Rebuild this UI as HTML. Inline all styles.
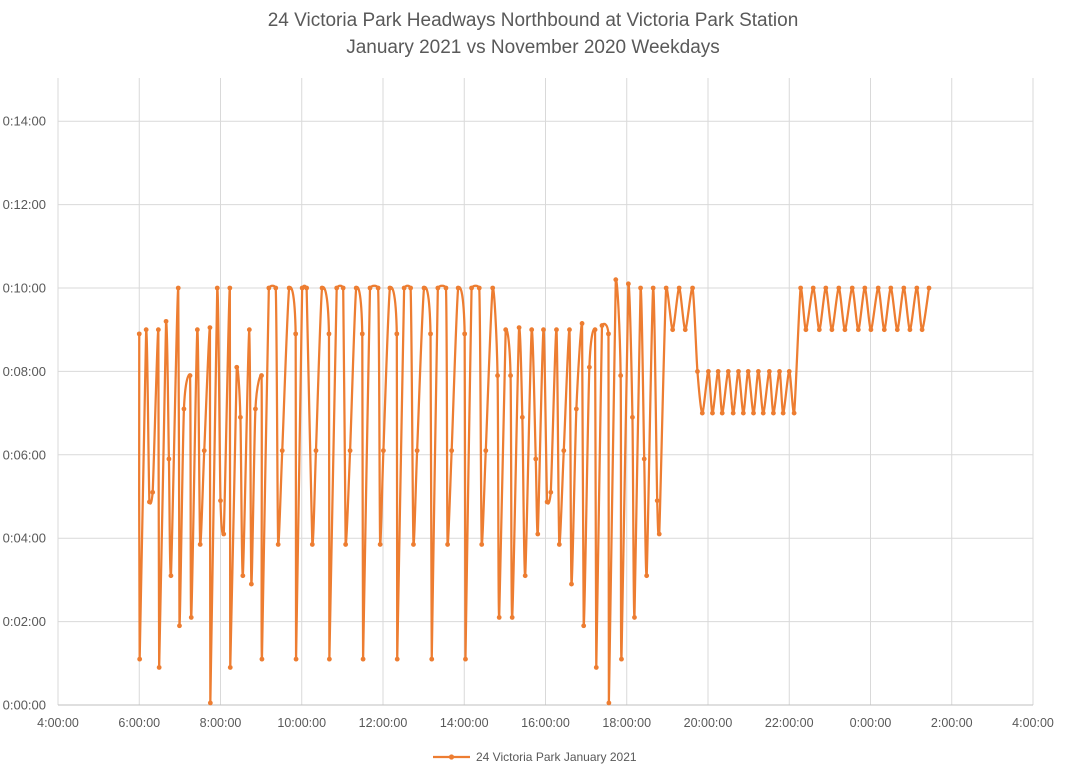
<!DOCTYPE html>
<html><head><meta charset="utf-8"><style>
body{margin:0;background:#fff;}
svg{display:block;font-family:"Liberation Sans",Calibri,sans-serif;}
</style></head><body>
<svg id="chart" width="1067" height="780" viewBox="0 0 1067 780" xmlns="http://www.w3.org/2000/svg">
<rect x="0" y="0" width="1067" height="780" fill="#fff"/>
<text x="533" y="26" text-anchor="middle" font-size="19" fill="#595959">24 Victoria Park Headways Northbound at Victoria Park Station</text>
<text x="533" y="53" text-anchor="middle" font-size="19" fill="#595959">January 2021 vs November 2020 Weekdays</text>
<g id="grid"></g>
<g id="yticks"></g>
<g id="xticks"></g>
<g id="series"></g>
<g>
<line x1="433" y1="757" x2="470" y2="757" stroke="#ED7D31" stroke-width="2.25"/>
<circle cx="451.5" cy="757" r="2.6" fill="#ED7D31"/>
<text x="476" y="761" font-size="12" fill="#595959">24 Victoria Park January 2021</text>
</g>
</svg>
<script>
const xTickLabels=["4:00:00","6:00:00","8:00:00","10:00:00","12:00:00","14:00:00","16:00:00","18:00:00","20:00:00","22:00:00","0:00:00","2:00:00","4:00:00"];
const yTickLabels=["0:00:00","0:02:00","0:04:00","0:06:00","0:08:00","0:10:00","0:12:00","0:14:00"];
// time of day in hours (past midnight continues >24)
const times=[6.00,6.01,6.17,6.25,6.33,6.47,6.49,6.66,6.73,6.78,6.96,6.99,7.10,7.25,7.28,7.43,7.50,7.60,7.74,7.75,7.92,8.00,8.08,8.23,8.24,8.40,8.49,8.55,8.71,8.76,8.86,9.01,9.02,9.19,9.36,9.42,9.52,9.69,9.85,9.86,10.01,10.12,10.26,10.35,10.50,10.67,10.68,10.86,11.02,11.08,11.19,11.34,11.49,11.51,11.68,11.88,11.93,12.01,12.17,12.34,12.35,12.52,12.68,12.75,12.84,13.01,13.17,13.20,13.35,13.55,13.59,13.69,13.85,14.01,14.03,14.18,14.37,14.43,14.53,14.70,14.82,14.86,15.02,15.14,15.18,15.35,15.43,15.50,15.66,15.76,15.81,15.95,16.04,16.13,16.27,16.34,16.45,16.59,16.64,16.76,16.90,16.94,17.08,17.22,17.25,17.39,17.55,17.56,17.73,17.85,17.87,18.04,18.14,18.19,18.34,18.43,18.49,18.65,18.75,18.80,18.97,19.13,19.29,19.44,19.62,19.74,19.86,20.01,20.11,20.25,20.35,20.50,20.62,20.75,20.87,20.99,21.12,21.24,21.36,21.51,21.61,21.76,21.85,22.00,22.12,22.28,22.41,22.59,22.74,22.90,23.05,23.22,23.37,23.55,23.70,23.86,24.01,24.19,24.34,24.50,24.66,24.82,24.97,25.14,25.27,25.44];
// headway in minutes
const headways=[8.9,1.1,9.0,4.87,5.1,9.0,0.9,9.2,5.9,3.1,10.0,1.9,7.1,7.9,2.1,9.0,3.85,6.1,9.05,0.05,10.0,4.9,4.1,10.0,0.9,8.1,6.9,3.1,9.0,2.9,7.1,7.9,1.1,10,10,3.85,6.1,10,8.9,1.1,10,10,3.85,6.1,10,8.9,1.1,10,10,3.85,6.1,10,8.9,1.1,10,10,3.85,6.1,10,8.9,1.1,10,10,3.85,6.1,10,8.9,1.1,10,10,3.85,6.1,10,8.9,1.1,10,10,3.85,6.1,10,7.9,2.1,9.0,7.9,2.1,9.05,6.9,3.1,9.0,5.9,4.1,9.0,4.87,5.1,9.0,3.85,6.1,9.0,2.9,7.1,9.15,1.9,8.1,9.0,0.9,9.1,8.9,0.05,10.2,7.9,1.1,10.1,6.9,2.1,10,5.9,3.1,10,4.9,4.1,10,9,10,9,10,8,7,8,7,8,7,8,7,8,7,8,7,8,7,8,7,8,7,8,7,10,9,10,9,10,9,10,9,10,9,10,9,10,9,10,9,10,9,10,9,10];

const X0=58,X1=1033,Y0=705,Y15=79.5;
function xs(h){return X0+(h-4)/24*(X1-X0);}
function ys(m){return Y0-m/15*(Y0-Y15);}
const NS="http://www.w3.org/2000/svg";
function mk(tag,attrs,parent){const e=document.createElementNS(NS,tag);for(const k in attrs)e.setAttribute(k,attrs[k]);parent.appendChild(e);return e;}
const grid=document.getElementById('grid'),yt=document.getElementById('yticks'),xt=document.getElementById('xticks'),ser=document.getElementById('series');
yTickLabels.forEach((lab,i)=>{
  const y=ys(i*2);
  if(i>0){const l=mk('line',{x1:X0,x2:X1,y1:y,y2:y,stroke:'#d9d9d9','stroke-width':1},grid);
  
  }
  const t=mk('text',{x:46,y:y+4.5,'text-anchor':'end','font-size':13,fill:'#595959'},yt);
  
  
  t.textContent=lab;
});
xTickLabels.forEach((lab,i)=>{
  const x=xs(4+i*2);
  const l=mk('line',{x1:x,x2:x,y1:78,y2:Y0,stroke:'#d9d9d9','stroke-width':1},grid);
  
  
  const t=mk('text',{x:x,y:727,'text-anchor':'middle','font-size':12.5,fill:'#595959'},xt);
  
  
  t.textContent=lab;
});
const ax=mk('line',{x1:X0,x2:X1,y1:Y0,y2:Y0,stroke:'#bfbfbf','stroke-width':1},grid);


const P=times.map((t,i)=>[xs(t),ys(headways[i])]);
function clampY(v,a,b){const lo=Math.min(a,b)-3,hi=Math.max(a,b)+3;return Math.max(lo,Math.min(hi,v));}
let d='M'+P[0][0]+','+P[0][1];
const k=1/8;
for(let i=0;i<P.length-1;i++){
  const p0=P[Math.max(0,i-1)],p1=P[i],p2=P[i+1],p3=P[Math.min(P.length-1,i+2)];
  const c1=[p1[0]+(p2[0]-p0[0])*k,clampY(p1[1]+(p2[1]-p0[1])*k,p1[1],p2[1])];
  const c2=[p2[0]-(p3[0]-p1[0])*k,clampY(p2[1]-(p3[1]-p1[1])*k,p1[1],p2[1])];
  d+=` C${c1[0].toFixed(2)},${c1[1].toFixed(2)} ${c2[0].toFixed(2)},${c2[1].toFixed(2)} ${p2[0].toFixed(2)},${p2[1].toFixed(2)}`;
}
const path=mk('path',{d:d,fill:'none',stroke:'#ED7D31','stroke-width':2.25,'stroke-linejoin':'round'},ser);


P.forEach(p=>{
  const c=mk('circle',{cx:p[0],cy:p[1],r:2.4,fill:'#ED7D31'},ser);
  
  
});
</script>
</body></html>
